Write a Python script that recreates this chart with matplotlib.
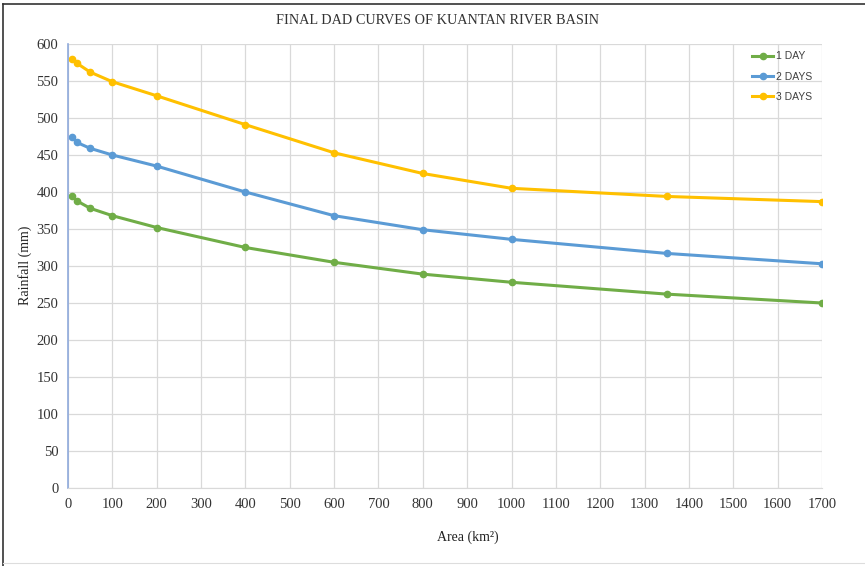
import numpy as np
import matplotlib.pyplot as plt
from matplotlib.lines import Line2D

area = [10, 20, 50, 100, 200, 400, 600, 800, 1000, 1350, 1700]
day1 = [394, 388, 378, 368, 352, 325, 305, 289, 278, 262, 250]
day2 = [474, 467, 459, 450, 435, 400, 368, 349, 336, 317, 303]
day3 = [580, 574, 562, 549, 530, 491, 453, 425, 405, 394, 387]
labels = ["1 DAY", "2 DAYS", "3 DAYS"]
colors = ["#70AD47", "#5B9BD5", "#FFC000"]

plt.rcParams['font.family'] = ['Liberation Serif', 'DejaVu Serif']

fig = plt.figure(figsize=(8.65, 5.66), dpi=100)
ax = fig.add_axes([68/865, 1-488/566, 754/865, 444/566])

for ys, lab, c in zip([day1, day2, day3], labels, colors):
    ax.plot(area, ys, color=c, lw=2.2, marker='o', ms=4.5, label=lab)

ax.set_xlim(0, 1700)
ax.set_ylim(0, 600)
ax.set_xticks(np.arange(0, 1701, 100))
ax.set_yticks(np.arange(0, 601, 50))
ax.grid(True, color='#D9D9D9', lw=0.9)
ax.set_axisbelow(True)
ax.tick_params(length=0, labelsize=10.5, colors='#333333', pad=7)
for s in ['top', 'right']:
    ax.spines[s].set_visible(False)
ax.spines['left'].set_color('#8FAADC')
ax.spines['left'].set_linewidth(1.2)
ax.spines['bottom'].set_color('#D9D9D9')

fig.text(438/865, 1-20/566, "FINAL DAD CURVES OF KUANTAN RIVER BASIN",
         ha='center', va='center', fontsize=10.3, color='#333333')
fig.text(25/865, 1-265/566, "Rainfall (mm)", rotation=90,
         ha='center', va='center', fontsize=10, color='#222222')
fig.text(468/865, 1-537/566, "Area (km²)",
         ha='center', va='center', fontsize=10, color='#222222')

handles = [Line2D([0], [0], color=c, lw=2.2, marker='o', ms=4.5) for c in colors]
leg = ax.legend(handles, labels, loc='upper right', bbox_to_anchor=(1.0, 1.005),
                frameon=False, handlelength=2.0, handletextpad=0.3, labelspacing=1.0,
                prop={'family': 'Liberation Sans', 'size': 7.5})
for t in leg.get_texts():
    t.set_color('#404040')

fig.add_artist(Line2D([3/865, 3/865], [0, 1-4/566], color='#333333', lw=1.2))
fig.add_artist(Line2D([3/865, 1], [1-4/566, 1-4/566], color='#333333', lw=1.2))
fig.add_artist(Line2D([3/865, 1], [1-563/566, 1-563/566], color='#DDDDDD', lw=0.8))

fig.savefig("out.png", dpi=100)
